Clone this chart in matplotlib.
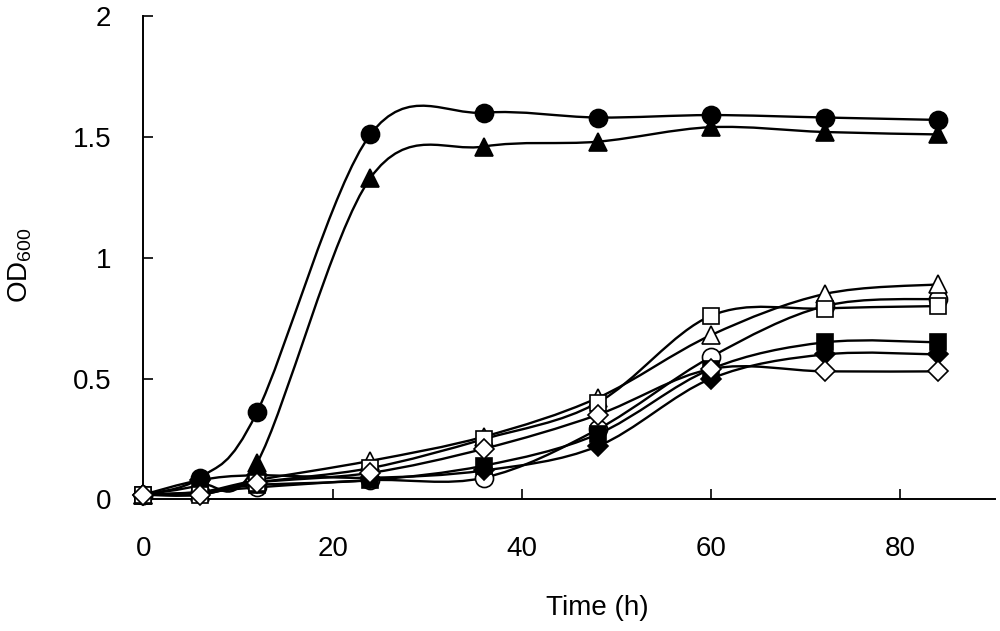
import matplotlib
matplotlib.use('Agg')
import matplotlib.pyplot as plt
from matplotlib.path import Path
from matplotlib.patches import PathPatch
from matplotlib.ticker import FormatStrFormatter
import numpy as np

plt.rcParams['font.family'] = ['Liberation Sans', 'DejaVu Sans']

time_h = [0, 6, 12, 24, 36, 48, 60, 72, 84]

filled_circle = [0.02, 0.09, 0.36, 1.51, 1.60, 1.58, 1.59, 1.58, 1.57]
filled_triangle = [0.02, 0.06, 0.15, 1.33, 1.46, 1.48, 1.54, 1.52, 1.51]
open_circle = [0.02, 0.03, 0.05, 0.08, 0.09, 0.29, 0.59, 0.80, 0.83]
filled_diamond = [0.02, 0.08, 0.10, 0.09, 0.12, 0.22, 0.50, 0.60, 0.60]
filled_square = [0.02, 0.03, 0.06, 0.08, 0.14, 0.27, 0.54, 0.65, 0.65]
open_triangle = [0.02, 0.03, 0.08, 0.16, 0.26, 0.42, 0.68, 0.85, 0.89]
open_square = [0.02, 0.02, 0.07, 0.13, 0.25, 0.40, 0.76, 0.79, 0.80]
open_diamond = [0.02, 0.02, 0.07, 0.11, 0.21, 0.35, 0.54, 0.53, 0.53]

# drawing order = which marker ends up on top
series = [
    (filled_circle, 'o', 'black', 13),
    (filled_triangle, '^', 'black', 13),
    (open_circle, 'o', 'white', 13),
    (filled_diamond, 'D', 'black', 10),
    (filled_square, 's', 'black', 12),
    (open_triangle, '^', 'white', 13),
    (open_square, 's', 'white', 12),
    (open_diamond, 'D', 'white', 10),
]


def smooth_path(x, y):
    # excel-like smoothed line: catmull-rom as cubic bezier
    n = len(x)
    verts = [(x[0], y[0])]
    codes = [Path.MOVETO]
    for i in range(n - 1):
        a = i - 1 if i > 0 else i
        d = i + 2 if i + 2 < n else i + 1
        c1 = (x[i] + (x[i + 1] - x[a]) / 6, y[i] + (y[i + 1] - y[a]) / 6)
        c2 = (x[i + 1] - (x[d] - x[i]) / 6, y[i + 1] - (y[d] - y[i]) / 6)
        verts += [c1, c2, (x[i + 1], y[i + 1])]
        codes += [Path.CURVE4] * 3
    return Path(verts, codes)


fig = plt.figure(figsize=(10, 6.31), dpi=100)
ax = fig.add_axes([0.1433, 0.2084, 0.8517, 0.7663])

z = 2
for vals, mk, fc, ms in series:
    ax.add_patch(PathPatch(smooth_path(time_h, vals), facecolor='none',
                           edgecolor='black', lw=1.7, zorder=z, clip_on=False))
    ax.plot(time_h, vals, linestyle='none', marker=mk, markersize=ms,
            markerfacecolor=fc, markeredgecolor='black', markeredgewidth=1.2,
            zorder=z + 0.5, clip_on=False)
    z += 1

ax.set_xlim(0, 90)
ax.set_ylim(0, 2)
ax.set_xticks([0, 20, 40, 60, 80])
ax.set_yticks([0, 0.5, 1, 1.5, 2])
ax.yaxis.set_major_formatter(FormatStrFormatter('%g'))

ax.spines['top'].set_visible(False)
ax.spines['right'].set_visible(False)
ax.spines['left'].set_linewidth(1.4)
ax.spines['bottom'].set_linewidth(1.4)
ax.tick_params(direction='in', length=7.5, width=1.2, labelsize=20, pad=26)
ax.tick_params(axis='y', pad=23)

ax.set_xlabel('Time (h)', fontsize=20)
ax.xaxis.set_label_coords(0.533, -0.198)
ax.set_ylabel(r'OD$_\mathregular{600}$', fontsize=20)
ax.yaxis.set_label_coords(-0.128, 0.485)

fig.savefig('out.png', dpi=100)
